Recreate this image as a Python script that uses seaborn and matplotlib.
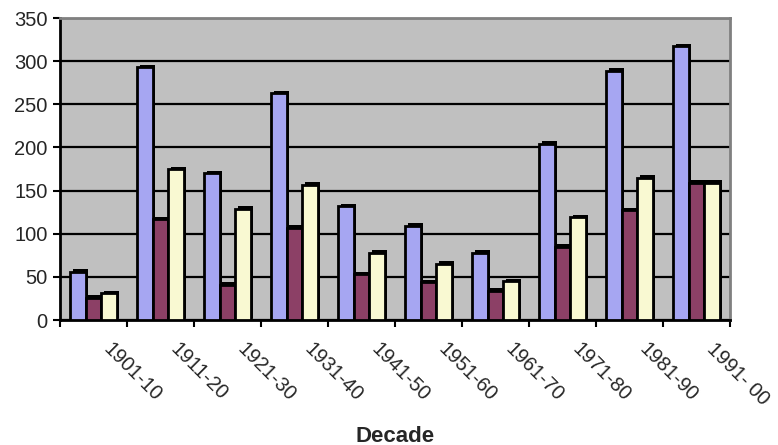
import numpy as np
import pandas as pd
import matplotlib
matplotlib.use('Agg')
import matplotlib.pyplot as plt
import matplotlib.patheffects as pe
import seaborn as sns

# Data
decades = ['1901-10', '1911-20', '1921-30', '1931-40', '1941-50',
           '1951-60', '1961-70', '1971-80', '1981-90', '1991- 00']
series_a = [56, 293, 170, 263, 132, 109, 78, 204, 289, 317]
series_b = [26, 117, 41, 107, 53, 44, 34, 85, 127, 159]
series_c = [31, 175, 129, 157, 78, 65, 45, 119, 165, 159]
series_names = ['Series 1', 'Series 2', 'Series 3']
colors = ['#9999FF', '#993366', '#FFFFCC']

df = pd.DataFrame({
    'decade': decades * 3,
    'value': series_a + series_b + series_c,
    'series': [n for n in series_names for _ in decades],
})

sns.set_style('white')
plt.rcParams['font.family'] = ['Liberation Sans', 'DejaVu Sans']

fig = plt.figure(figsize=(7.78, 4.45), dpi=100)
ax = fig.add_axes([60 / 778, 1 - 320 / 445, 670 / 778, 302 / 445])
ax.set_facecolor('#C0C0C0')

sns.barplot(data=df, x='decade', y='value', hue='series', palette=colors,
            edgecolor='black', linewidth=2, width=0.7, legend=False,
            ax=ax, zorder=3)
for patch in ax.patches:
    patch.set_path_effects([pe.SimplePatchShadow(offset=(1.8, 1.8),
                                                 shadow_rgbFace='black',
                                                 alpha=1), pe.Normal()])

ax.set_ylim(0, 350)
ax.set_xlim(-0.5, len(decades) - 0.5)
ax.set_yticks(np.arange(0, 351, 50))
ax.yaxis.grid(True, color='black', linewidth=1.6, zorder=1)
ax.set_axisbelow(True)

# boundary ticks between groups; labels sit a bit right of group centres
ax.set_xticks(np.arange(len(decades) + 1) - 0.5)
ax.set_xticklabels([])
ax.set_xticks(np.arange(len(decades)) + 0.3, minor=True)
ax.set_xticklabels(decades, minor=True, rotation=-45, ha='left', va='top',
                   rotation_mode='anchor', fontsize=14.5)
ax.tick_params(axis='x', which='major', direction='out', length=5,
               width=1.5, color='black', bottom=True)
ax.tick_params(axis='x', which='minor', length=0, pad=14)
ax.tick_params(axis='y', direction='out', length=5, width=1.5,
               color='black', left=True, labelsize=14.5, pad=4)

for side in ['left', 'bottom']:
    ax.spines[side].set_color('black')
    ax.spines[side].set_linewidth(2)
for side in ['top', 'right']:
    ax.spines[side].set_color('#808080')
    ax.spines[side].set_linewidth(2)

ax.set_ylabel('')
ax.set_xlabel('Decade', fontsize=16, fontweight='bold',
              family=['Liberation Sans Narrow', 'Liberation Sans'])
ax.xaxis.set_label_coords(0.5, (320 - 436) / 302)
ax.xaxis.label.set_va('center')

fig.savefig('out.png', dpi=100)
